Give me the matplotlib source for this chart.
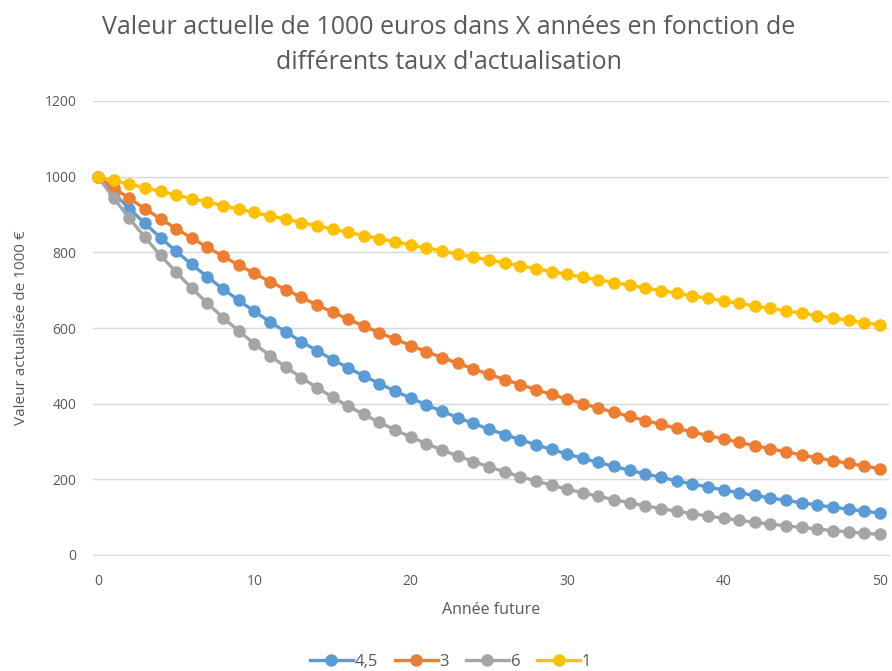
import matplotlib.pyplot as plt

plt.rcParams['font.family'] = ['Open Sans', 'DejaVu Sans']

annees = list(range(0, 51))

taux_4_5 = [1000, 956.9, 915.7, 876.3, 838.6, 802.5, 767.9, 734.8, 703.2, 672.9,
            643.9, 616.2, 589.7, 564.3, 540.0, 516.7, 494.5, 473.2, 452.8, 433.3,
            414.6, 396.8, 379.7, 363.4, 347.7, 332.7, 318.4, 304.7, 291.6, 279.0,
            267.0, 255.5, 244.5, 234.0, 223.9, 214.3, 205.1, 196.2, 187.8, 179.7,
            172.0, 164.5, 157.5, 150.7, 144.2, 138.0, 132.0, 126.4, 120.9, 115.7,
            110.7]
taux_3 = [1000, 970.9, 942.6, 915.1, 888.5, 862.6, 837.5, 813.1, 789.4, 766.4,
          744.1, 722.4, 701.4, 681.0, 661.1, 641.9, 623.2, 605.0, 587.4, 570.3,
          553.7, 537.5, 521.9, 506.7, 491.9, 477.6, 463.7, 450.2, 437.1, 424.4,
          412.0, 400.0, 388.4, 377.1, 366.1, 355.4, 345.1, 335.0, 325.3, 315.8,
          306.6, 297.7, 289.0, 280.6, 272.4, 264.5, 256.8, 249.3, 242.1, 235.0,
          228.1]
taux_6 = [1000, 943.4, 890.0, 839.6, 792.1, 747.3, 705.0, 665.1, 627.4, 591.9,
          558.4, 526.8, 497.0, 468.8, 442.3, 417.3, 393.6, 371.4, 350.3, 330.5,
          311.8, 294.2, 277.5, 261.8, 247.0, 233.0, 219.8, 207.4, 195.6, 184.6,
          174.1, 164.3, 155.0, 146.2, 137.9, 130.1, 122.7, 115.8, 109.2, 103.1,
          97.2, 91.7, 86.5, 81.6, 77.0, 72.7, 68.5, 64.7, 61.0, 57.5,
          54.3]
taux_1 = [1000, 990.1, 980.3, 970.6, 961.0, 951.5, 942.0, 932.7, 923.5, 914.3,
          905.3, 896.3, 887.4, 878.7, 870.0, 861.3, 852.8, 844.4, 836.0, 827.7,
          819.5, 811.4, 803.4, 795.4, 787.6, 779.8, 772.0, 764.4, 756.8, 749.3,
          741.9, 734.6, 727.3, 720.1, 712.9, 705.9, 698.9, 692.0, 685.1, 678.3,
          671.7, 665.0, 658.4, 651.9, 645.5, 639.1, 632.7, 626.5, 620.3, 614.1,
          608.0]

series = [('4,5', taux_4_5, '#5B9BD5'),
          ('3', taux_3, '#ED7D31'),
          ('6', taux_6, '#A5A5A5'),
          ('1', taux_1, '#FFC000')]

texte = '#595959'

fig = plt.figure(figsize=(8.92, 6.71), dpi=100)
ax = fig.add_axes([93 / 892, 116 / 671, 796 / 892, 454 / 671])

for nom, valeurs, couleur in series:
    ax.plot(annees, valeurs, '-o', color=couleur, linewidth=2.4,
            markersize=8, label=nom, clip_on=False)

ax.set_xlim(-0.32, 50.58)
ax.set_ylim(0, 1200)
ax.set_xticks(range(0, 51, 10))
ax.set_yticks(range(0, 1201, 200))
ax.grid(axis='y', color='#D9D9D9', linewidth=1)
ax.set_axisbelow(True)
for s in ['top', 'right', 'left']:
    ax.spines[s].set_visible(False)
ax.spines['bottom'].set_color('#D9D9D9')
ax.tick_params(length=0, labelsize=10, colors=texte, pad=14)
ax.tick_params(axis='y', pad=12)

ax.set_xlabel('Année future', fontsize=11.5, color=texte, labelpad=9)
ax.set_ylabel('Valeur actualisée de 1000 €', fontsize=11, color=texte, labelpad=11)

fig.suptitle("Valeur actuelle de 1000 euros dans X années en fonction de\ndifférents taux d'actualisation",
             x=0.503, y=0.977, fontsize=18, color=texte, linespacing=1.5)

fig.legend(loc='lower center', bbox_to_anchor=(0.505, -0.021), ncol=4, frameon=False,
           fontsize=12, labelcolor=texte, handlelength=2.6, handletextpad=0.1,
           columnspacing=1.0)

fig.savefig('out.png', dpi=100)
